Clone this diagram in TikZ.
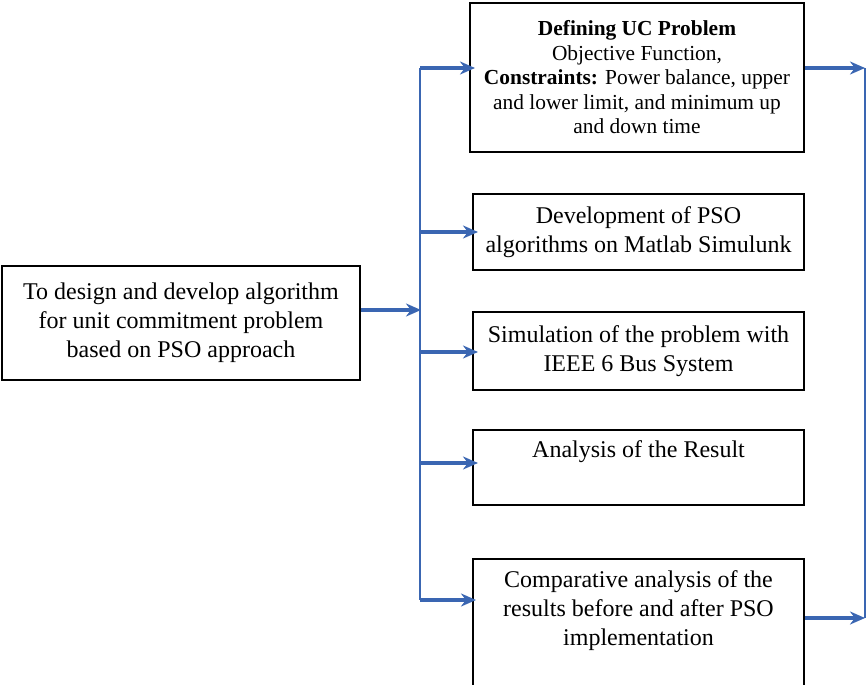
\documentclass[tikz,border=0pt]{standalone}
\usepackage{fontspec}
\setmainfont{Liberation Serif}
\usepackage{xcolor}
\usetikzlibrary{arrows.meta,positioning,calc}
\definecolor{flowblue}{RGB}{58,102,178}

\begin{document}
\begin{tikzpicture}[x=0.5pt,y=-0.5pt,>={Stealth[length=7.5pt,width=6.5pt]},
  box/.style={draw,line width=1pt,align=center,inner sep=2pt,font=\fontsize{12}{14.5}\selectfont},
  flow/.style={->,flowblue,line width=1.6pt},
  bus/.style={flowblue,line width=0.8pt}]
\useasboundingbox (0,0) rectangle (868,685);
\node[box,minimum width=179pt,minimum height=57pt] (aim) at (181,323)
  {To design and develop algorithm\\for unit commitment problem\\based on PSO approach};
\node[box,minimum width=167pt,minimum height=74.5pt,font=\fontsize{10.7}{12.25}\selectfont] (uc) at (637,77.5)
  {\textbf{Defining UC Problem}\\Objective Function,\\\textbf{Constraints:} Power balance, upper\\and lower limit, and minimum up\\and down time};
\node[box,minimum width=165.5pt,minimum height=38pt] (pso) at (638.5,232)
  {Development of PSO\\algorithms on Matlab Simulunk};
\node[box,minimum width=165.5pt,minimum height=39pt] (sim) at (638.5,351)
  {Simulation of the problem with\\IEEE 6 Bus System};
\node[box,minimum width=165.5pt,minimum height=37.5pt] (res) at (638.5,467.5)
  {Analysis of the Result\\\strut};
\node[box,minimum width=165.5pt,minimum height=82pt,anchor=north] (cmp) at (638.5,558)
  {Comparative analysis of the\\results before and after PSO\\implementation\\\strut\\\strut};
\coordinate (b0) at (421,310);
\coordinate (b1) at (420,68);
\coordinate (b2) at (420,232);
\coordinate (b3) at (420,352);
\coordinate (b4) at (420,463);
\coordinate (b5) at (420,600);
\coordinate (r1) at (865,68);
\coordinate (r2) at (865,618);
\draw[bus] (b1) -- (b5);
\draw[flow] (aim.east |- b0) -- (b0);
\draw[flow] (b1) -- ([xshift=3pt]b1 -| uc.west);
\draw[flow] (b2) -- ([xshift=3pt]b2 -| pso.west);
\draw[flow] (b3) -- ([xshift=3pt]b3 -| sim.west);
\draw[flow] (b4) -- ([xshift=3pt]b4 -| res.west);
\draw[flow] (b5) -- ([xshift=2pt]b5 -| cmp.west);
\draw[bus] (r1) -- (r2);
\draw[flow] (uc.east |- r1) -- (r1);
\draw[flow] (cmp.east |- r2) -- (r2);
\end{tikzpicture}
\end{document}
